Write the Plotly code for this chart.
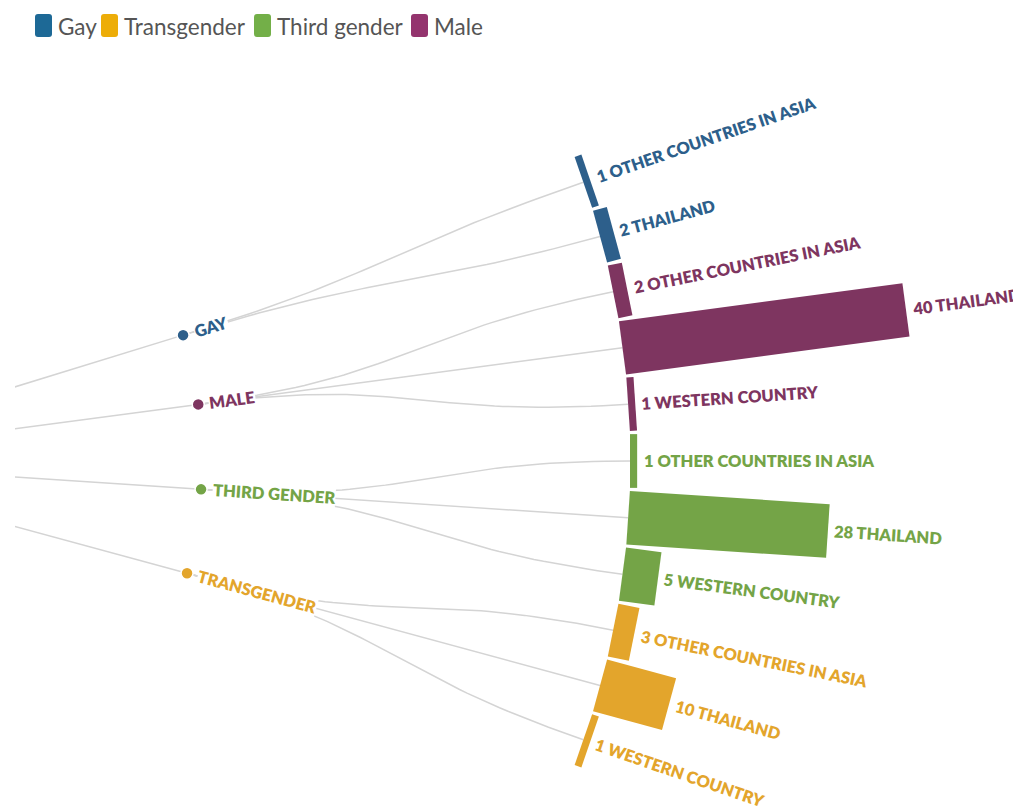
import numpy as np
import plotly.graph_objects as go

# data: one leaf per (gender, region) pair, in drawing order from top to bottom
genders = ["Gay", "Male", "Third gender", "Transgender"]
legend_order = ["Gay", "Transgender", "Third gender", "Male"]
leaf_gender = ["Gay", "Gay",
               "Male", "Male", "Male",
               "Third gender", "Third gender", "Third gender",
               "Transgender", "Transgender", "Transgender"]
leaf_region = ["Other countries in Asia", "Thailand",
               "Other countries in Asia", "Thailand", "Western country",
               "Other countries in Asia", "Thailand", "Western country",
               "Other countries in Asia", "Thailand", "Western country"]
leaf_count = [1, 2, 2, 40, 1, 1, 28, 5, 3, 10, 1]

colors = {"Gay": "#2d5f8b", "Male": "#7e3560",
          "Third gender": "#74a447", "Transgender": "#e3a52c"}
legend_colors = {"Gay": "#1d6996", "Transgender": "#edad08",
                 "Third gender": "#73af48", "Male": "#94346e"}

# layout of the radial tree (page pixels, centre sits off to the left)
W, H = 1021, 808
PAGE_PAD = 8  # default body margin of the html page
CX, CY = -226, 461
R_LEAF = 856
R_NODE = R_LEAF / 2
STEP = np.radians(3.8)
PX_PER_UNIT = 7.15
BAR_W = 2 * R_LEAF * np.sin(STEP / 2) - 3
FONT = "Lato"
LABEL_SIZE = 16.5
LABEL_WEIGHT = 800

# rough Lato Heavy advance widths (em) to centre the rotated labels
CHAR_W = {" ": 0.26, "0": 0.59, "1": 0.59, "2": 0.59, "3": 0.59, "4": 0.59,
          "5": 0.59, "8": 0.59, "A": 0.71, "C": 0.68, "D": 0.77, "E": 0.56,
          "G": 0.73, "H": 0.78, "I": 0.32, "L": 0.51, "M": 0.93, "N": 0.78,
          "O": 0.81, "R": 0.65, "S": 0.54, "T": 0.60, "U": 0.75, "W": 1.03,
          "Y": 0.66}


def text_width(s, size):
    return sum(CHAR_W.get(c, 0.6) for c in s) * size


def polar(a, r):
    return CX + r * np.cos(a), CY - r * np.sin(a)


def bump_link(a0, r0, a1, r1, n=50):
    # same shape as d3.linkRadial: leaves and arrives radially
    rm = (r0 + r1) / 2
    p = np.array([polar(a0, r0), polar(a0, rm), polar(a1, rm), polar(a1, r1)])
    t = np.linspace(0, 1, n)[:, None]
    b = ((1 - t) ** 3 * p[0] + 3 * (1 - t) ** 2 * t * p[1]
         + 3 * (1 - t) * t ** 2 * p[2] + t ** 3 * p[3])
    return b[:, 0], b[:, 1]


n_leaves = len(leaf_count)
leaf_angle = [((n_leaves - 1) / 2 - i) * STEP for i in range(n_leaves)]
node_angle = {g: np.mean([a for a, lg in zip(leaf_angle, leaf_gender) if lg == g])
              for g in genders}

fig = go.Figure()
annotations = []
shapes = []

# links: root -> gender, gender -> leaf
lx, ly = [], []
for g in genders:
    x0, y0 = polar(node_angle[g], 0)
    x1, y1 = polar(node_angle[g], R_NODE)
    lx += [x0, x1, None]
    ly += [y0, y1, None]
for a, g in zip(leaf_angle, leaf_gender):
    bx, by = bump_link(node_angle[g], R_NODE, a, R_LEAF)
    lx += list(bx) + [None]
    ly += list(by) + [None]
fig.add_trace(go.Scatter(x=lx, y=ly, mode="lines", hoverinfo="skip",
                         line=dict(color="#d4d4d4", width=1.5), showlegend=False))

# bars: rotated rectangles starting at the leaf radius
for a, g, region, count in zip(leaf_angle, leaf_gender, leaf_region, leaf_count):
    length = count * PX_PER_UNIT
    nx, ny = np.sin(a), np.cos(a)
    hw = BAR_W / 2
    bx0, by0 = polar(a, R_LEAF)
    bx1, by1 = polar(a, R_LEAF + length)
    xs = [bx0 - hw * nx, bx1 - hw * nx, bx1 + hw * nx, bx0 + hw * nx, bx0 - hw * nx]
    ys = [by0 - hw * ny, by1 - hw * ny, by1 + hw * ny, by0 + hw * ny, by0 - hw * ny]
    fig.add_trace(go.Scatter(x=xs, y=ys, mode="lines", fill="toself",
                             fillcolor=colors[g], line=dict(width=0, color=colors[g]),
                             name=f"{g}: {count} {region}", hoverinfo="name",
                             showlegend=False))

    label = f"{count} {region.upper()}"
    w = text_width(label, LABEL_SIZE)
    cx, cy = polar(a, R_LEAF + length + 6 + w / 2)
    annotations.append(dict(x=cx, y=cy, xref="x", yref="y", text=label,
                            textangle=-np.degrees(a), showarrow=False,
                            xanchor="center", yanchor="middle",
                            font=dict(family=FONT, size=LABEL_SIZE, color=colors[g],
                                      weight=LABEL_WEIGHT)))

# gender nodes and their labels
for g in genders:
    x, y = polar(node_angle[g], R_NODE)
    fig.add_trace(go.Scatter(x=[x], y=[y], mode="markers", hoverinfo="text",
                             text=[g], showlegend=False,
                             marker=dict(size=12, color=colors[g],
                                         line=dict(color="white", width=1.5))))
    label = g.upper()
    w = text_width(label, LABEL_SIZE)
    cx, cy = polar(node_angle[g], R_NODE + 12 + w / 2)
    annotations.append(dict(x=cx, y=cy, xref="x", yref="y", text=label,
                            textangle=-np.degrees(node_angle[g]), showarrow=False,
                            xanchor="center", yanchor="middle", bgcolor="white",
                            borderpad=0,
                            font=dict(family=FONT, size=LABEL_SIZE, color=colors[g],
                                      weight=LABEL_WEIGHT)))

# legend drawn by hand: rounded swatch + label
legend_x = [35, 101, 254, 411]
for g, x0 in zip(legend_order, legend_x):
    x1, y0, y1, rr = x0 + 17, 14, 37, 3
    path = (f"M{x0 + rr},{y0} L{x1 - rr},{y0} Q{x1},{y0} {x1},{y0 + rr} "
            f"L{x1},{y1 - rr} Q{x1},{y1} {x1 - rr},{y1} L{x0 + rr},{y1} "
            f"Q{x0},{y1} {x0},{y1 - rr} L{x0},{y0 + rr} Q{x0},{y0} {x0 + rr},{y0} Z")
    shapes.append(dict(type="path", path=path, xref="x", yref="y",
                       fillcolor=legend_colors[g], line=dict(width=0)))
    annotations.append(dict(x=x1 + 4, y=26, xref="x", yref="y", text=g,
                            showarrow=False, xanchor="left", yanchor="middle",
                            font=dict(family=FONT, size=22.5, color="#555555")))

fig.update_layout(
    width=W - PAGE_PAD, height=H - PAGE_PAD,
    margin=dict(l=15 - PAGE_PAD, r=0, t=0, b=0),
    paper_bgcolor="white", plot_bgcolor="white",
    xaxis=dict(range=[15, W], visible=False, fixedrange=True),
    yaxis=dict(range=[H, PAGE_PAD], visible=False, fixedrange=True),
    annotations=annotations, shapes=shapes,
    showlegend=False,
)

fig.write_html("out.html")
